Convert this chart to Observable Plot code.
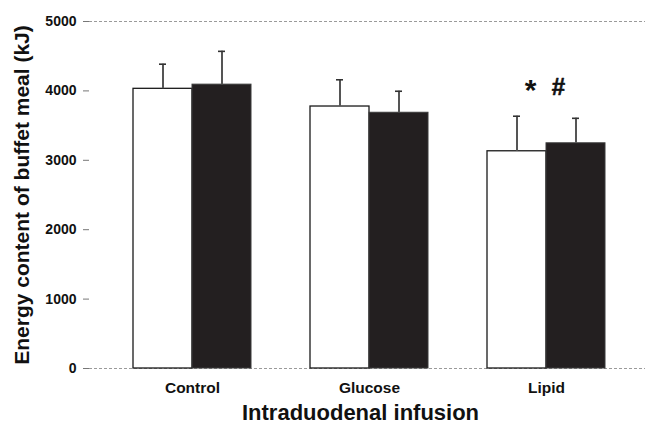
<!DOCTYPE html>
<html>
<head>
<meta charset="utf-8">
<script src="https://cdn.jsdelivr.net/npm/d3@7"></script>
<script src="https://cdn.jsdelivr.net/npm/@observablehq/plot@0.6"></script>
<style>
  html, body { margin: 0; padding: 0; background: #fff; }
  #chart { width: 646px; height: 429px; }
</style>
</head>
<body>
<div id="chart"></div>
<script>
// ---- data ----
const categories = ["Control", "Glucose", "Lipid"];
const seriesNames = ["A", "B"];            // A = open bars, B = filled bars
const valuesA = [4030, 3775, 3130];        // kJ
const valuesB = [4090, 3685, 3245];
const errorsA = [355, 385, 505];
const errorsB = [480, 310, 360];
const yTicks = [0, 1000, 2000, 3000, 4000, 5000];
const markers = [
  { category: "Lipid", series: "A", label: "*" },
  { category: "Lipid", series: "B", label: "#" }
];
const yLabel = "Energy content of buffet meal (kJ)";
const xLabel = "Intraduodenal infusion";

// ---- table built from the arrays ----
const rows = [];
categories.forEach((c, i) => {
  rows.push({ category: c, series: "A", value: valuesA[i], err: errorsA[i] });
  rows.push({ category: c, series: "B", value: valuesB[i], err: errorsB[i] });
});
const rowsA = rows.filter(d => d.series === "A");
const rowsB = rows.filter(d => d.series === "B");
const markRows = markers.map(m => ({ ...m, ...rows.find(r => r.category === m.category && r.series === m.series), label: m.label }));

const half = 59;      // half of a group's band, px
const capHalf = 3.5;  // half-width of error caps, px
const font = "'Liberation Sans', Arial, Helvetica, sans-serif";

const chart = Plot.plot({
  width: 646,
  height: 429,
  marginLeft: 89,
  marginRight: 1,
  marginTop: 21,
  marginBottom: 61,
  style: { fontFamily: font, background: "#fff", color: "#111" },
  x: { domain: categories, paddingInner: 0.333, paddingOuter: 0.237, align: 0.524, axis: null },
  y: { domain: [0, 5000], axis: null },
  marks: [
    // frame lines at 0 and 5000
    Plot.ruleY([0, 5000], { stroke: "#9a9a9a", strokeWidth: 1, strokeDasharray: "3,2" }),
    // bars
    Plot.barY(rowsA, { x: "category", y: "value", fill: "#fff", stroke: "#1a1a1a", strokeWidth: 1.3, insetRight: half }),
    Plot.barY(rowsB, { x: "category", y: "value", fill: "#231f20", stroke: "#3a3a3a", strokeWidth: 1, insetLeft: half }),
    // error bars
    Plot.ruleX(rowsA, { x: "category", y1: "value", y2: d => d.value + d.err, dx: -half / 2, stroke: "#555", strokeWidth: 2 }),
    Plot.ruleX(rowsB, { x: "category", y1: "value", y2: d => d.value + d.err, dx: half / 2, stroke: "#555", strokeWidth: 2 }),
    Plot.tickY(rowsA, { x: "category", y: d => d.value + d.err, insetLeft: half - half / 2 - capHalf, insetRight: half + half / 2 - capHalf, stroke: "#333", strokeWidth: 1.6 }),
    Plot.tickY(rowsB, { x: "category", y: d => d.value + d.err, insetLeft: half + half / 2 - capHalf, insetRight: half - half / 2 - capHalf, stroke: "#333", strokeWidth: 1.6 }),
    // significance markers
    Plot.text(markRows.filter(d => d.series === "A"), { x: "category", y: d => d.value + d.err, text: "label", dx: -16, dy: -26, fontSize: 30, fontWeight: "bold", fill: "#111" }),
    Plot.text(markRows.filter(d => d.series === "B"), { x: "category", y: d => d.value + d.err, text: "label", dx: 12, dy: -31, fontSize: 24, fontWeight: "bold", fill: "#111", stroke: "#111", strokeWidth: 0.6 }),
    // axes
    Plot.axisY({ ticks: yTicks, tickFormat: d => String(d), tickSize: 6, tickPadding: 7, fontSize: 14, fontWeight: "bold", line: true, stroke: "#777", label: null }),
    Plot.axisX({ tickSize: 0, tickPadding: 13, fontSize: 15.5, fontWeight: "bold", label: null }),
    // axis titles
    Plot.text([yLabel], { frameAnchor: "left", textAnchor: "middle", rotate: -90, dx: -67, fontSize: 21, fontWeight: "bold", fill: "#111" }),
    Plot.text([xLabel], { frameAnchor: "bottom", dx: -7, dy: 44, lineAnchor: "middle", fontSize: 22, fontWeight: "bold", fill: "#111" })
  ]
});
document.getElementById("chart").appendChild(chart);
</script>
</body>
</html>
